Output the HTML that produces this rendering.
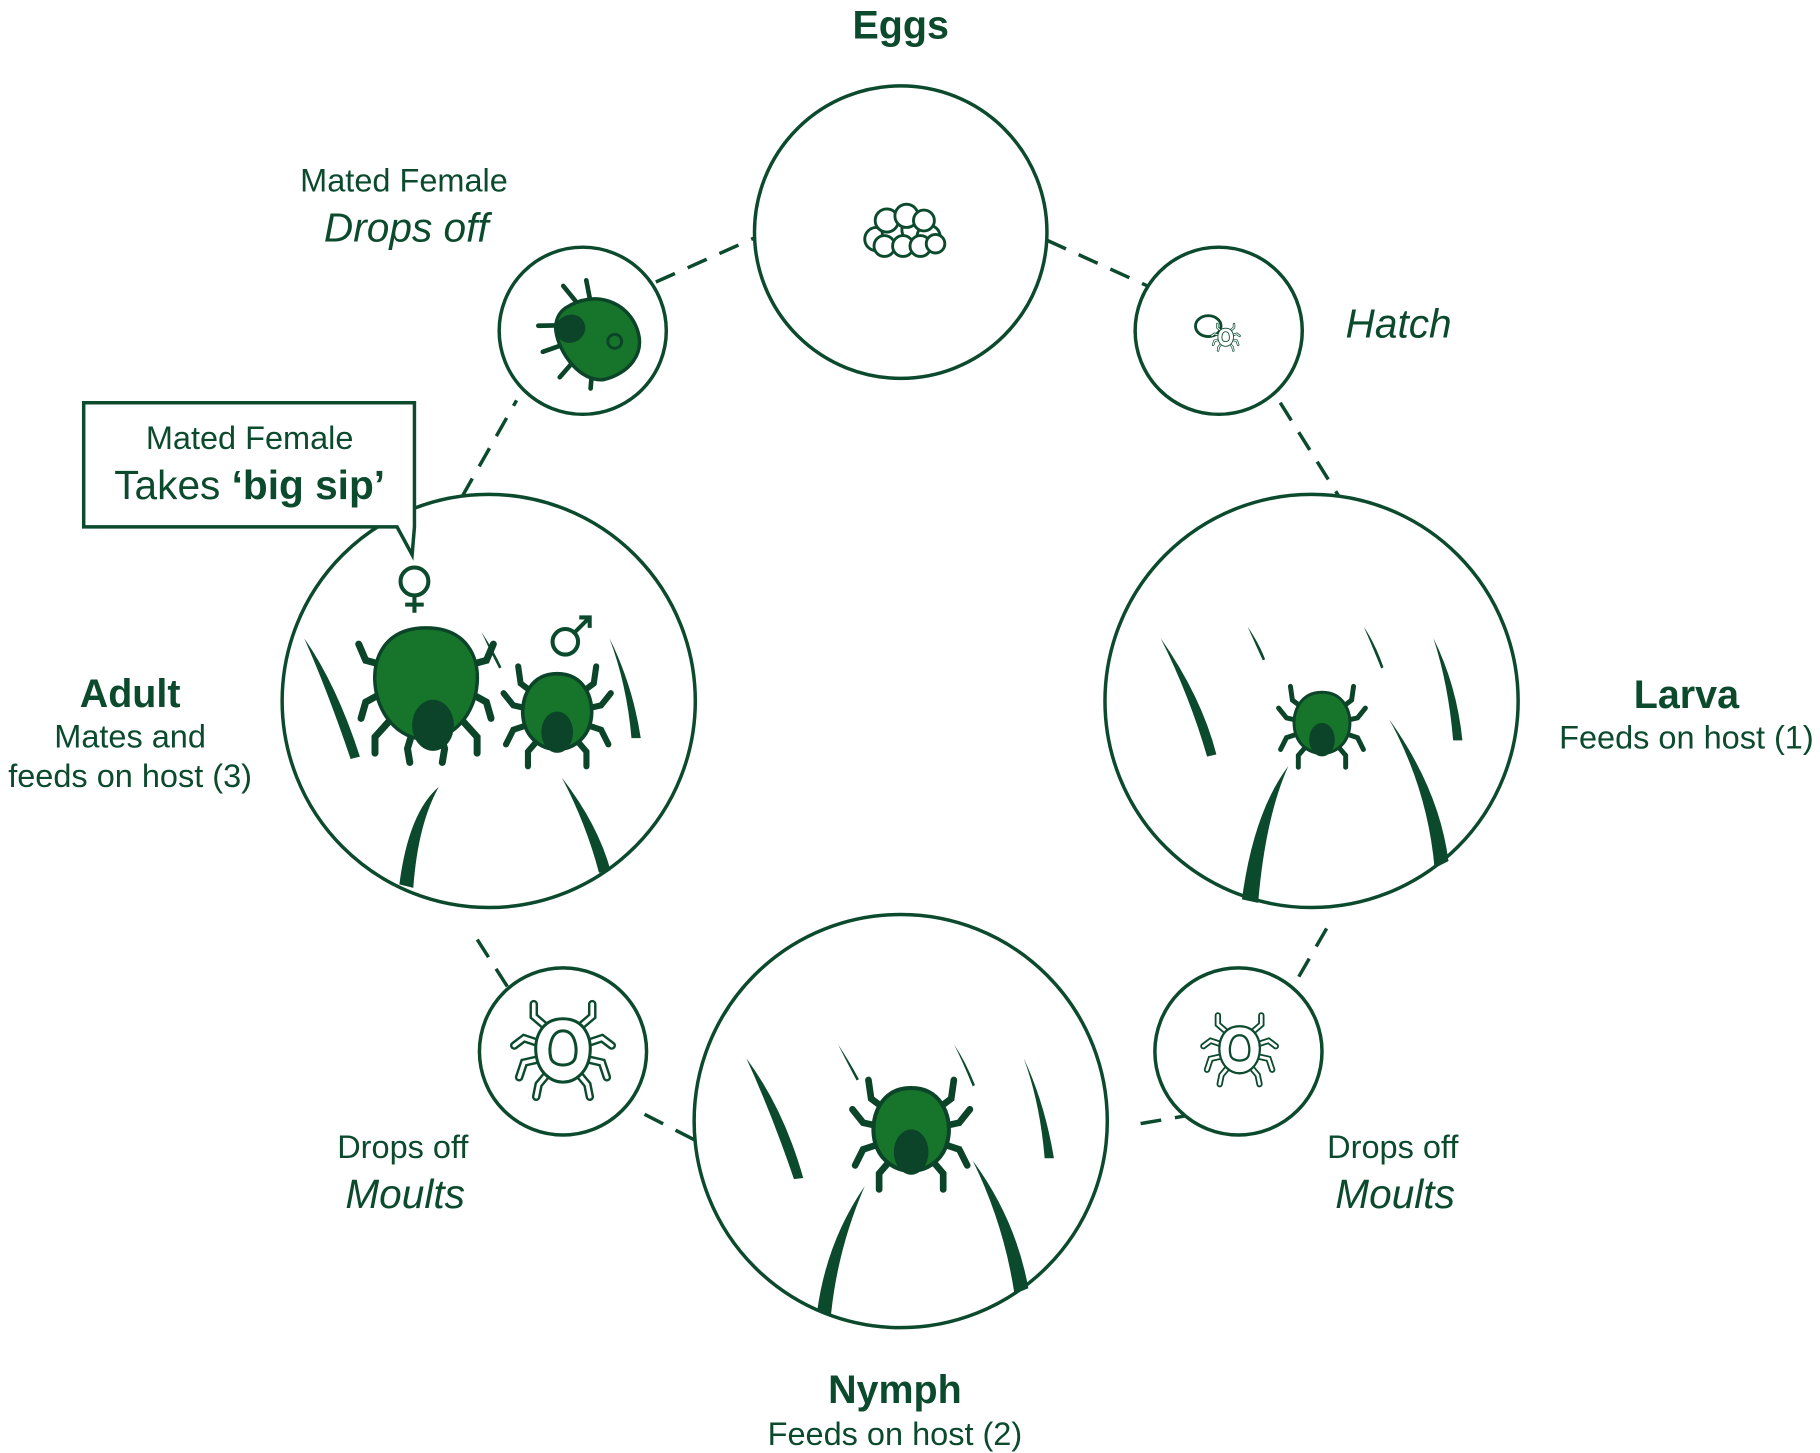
<!DOCTYPE html>
<html><head><meta charset="utf-8"><style>
html,body{margin:0;padding:0;background:#fff;}
svg{display:block}
text{font-family:"Liberation Sans",sans-serif;fill:#0c4a2e}
</style></head><body>
<svg width="1820" height="1453" viewBox="0 0 1568 1252" xmlns="http://www.w3.org/2000/svg">
<defs>
<g id="tick">
  <g stroke="#0c4429" stroke-width="5" fill="none" stroke-linecap="round">
    <path d="M-14,-10 L-30,-22 L-32,-36"/><path d="M14,-10 L30,-22 L32,-36"/>
    <path d="M-18,0 L-36,-4 L-44,-14"/><path d="M18,0 L36,-4 L44,-14"/>
    <path d="M-18,10 L-36,16 L-42,28"/><path d="M18,10 L36,16 L42,28"/>
    <path d="M-12,20 L-24,34 L-24,46"/><path d="M12,20 L24,34 L24,46"/>
  </g>
  <path d="M0,-30 C22,-30 30,-10 28,6 C26,22 14,32 0,32 C-14,32 -26,22 -28,6 C-30,-10 -22,-30 0,-30Z" fill="#17752b" stroke="#0c4429" stroke-width="3"/>
  <ellipse cx="0" cy="18" rx="13" ry="17" fill="#0c4429"/>
</g>
<g id="whitetick">
  <g stroke="#0c4a2e" stroke-width="7" fill="none" stroke-linecap="round">
    <path d="M-10,-14 L-24,-26 L-24,-36"/><path d="M10,-14 L24,-26 L24,-36"/>
    <path d="M-14,-2 L-32,-8 L-40,-2"/><path d="M14,-2 L32,-8 L40,-2"/>
    <path d="M-14,8 L-32,12 L-36,24"/><path d="M14,8 L32,12 L36,24"/>
    <path d="M-10,18 L-20,30 L-22,40"/><path d="M10,18 L20,30 L22,40"/>
  </g>
  <g stroke="#fff" stroke-width="3" fill="none" stroke-linecap="round">
    <path d="M-10,-14 L-24,-26 L-24,-36"/><path d="M10,-14 L24,-26 L24,-36"/>
    <path d="M-14,-2 L-32,-8 L-40,-2"/><path d="M14,-2 L32,-8 L40,-2"/>
    <path d="M-14,8 L-32,12 L-36,24"/><path d="M14,8 L32,12 L36,24"/>
    <path d="M-10,18 L-20,30 L-22,40"/><path d="M10,18 L20,30 L22,40"/>
  </g>
  <path d="M0,-24 C18,-24 24,-8 22,6 C20,20 10,28 0,28 C-10,28 -20,20 -22,6 C-24,-8 -18,-24 0,-24Z" fill="#fff" stroke="#0c4a2e" stroke-width="2.5"/>
  <path d="M0,-14 C10,-14 12,0 10,8 C8,16 -8,16 -10,8 C-12,0 -10,-14 0,-14Z" fill="#fff" stroke="#0c4a2e" stroke-width="2.5"/>
</g>
</defs>

<g stroke="#0c4a2e" stroke-width="3" stroke-dasharray="18 12" fill="none">
  <path d="M565,243 L650,205"/>
  <path d="M902,207 L990,247"/>
  <path d="M1103,347 L1155,430"/>
  <path d="M1143,800 L1113,852"/>
  <path d="M1030,960 L972,970"/>
  <path d="M598,982 L555,960"/>
  <path d="M437,850 L405,800"/>
  <path d="M398,428 L445,345"/>
</g>

<g fill="#fff" stroke="#0c4a2e" stroke-width="3">
  <circle cx="776" cy="200" r="126"/>
  <circle cx="1050" cy="285" r="72"/>
  <circle cx="1130" cy="604" r="178"/>
  <circle cx="1067" cy="906" r="72"/>
  <circle cx="776" cy="966" r="178"/>
  <circle cx="485" cy="906" r="72"/>
  <circle cx="421" cy="604" r="178"/>
  <circle cx="502" cy="285" r="72"/>
</g>

<g fill="#fff" stroke="#0c4a2e" stroke-width="2.5">
  <circle cx="755" cy="206" r="10"/><circle cx="770" cy="200" r="10"/><circle cx="787" cy="198" r="10"/><circle cx="800" cy="204" r="10"/>
  <circle cx="764" cy="190" r="10"/><circle cx="781" cy="186" r="10"/><circle cx="796" cy="190" r="9"/>
  <circle cx="762" cy="212" r="9"/><circle cx="778" cy="212" r="9"/><circle cx="793" cy="212" r="9"/><circle cx="806" cy="210" r="8"/>
</g>

<g transform="translate(1050,285) scale(0.5)" >
  <ellipse cx="-18" cy="-8" rx="22" ry="18" fill="#fff" stroke="#0c4a2e" stroke-width="5"/>
  <g transform="translate(12,10) scale(0.6)"><use href="#whitetick"/></g>
</g>

<g fill="#0c4a2e">
  <path d="M1000,550 Q1035,600 1048,650 L1040,652 Q1025,600 1000,550Z"/>
  <path d="M1235,550 Q1255,590 1260,638 L1252,638 Q1248,590 1235,550Z"/>
  <path d="M1075,540 Q1085,555 1090,568 L1088,569 Q1082,556 1075,540Z"/>
  <path d="M1175,540 Q1185,555 1192,575 L1190,576 Q1182,556 1175,540Z"/>
  <path d="M1070,775 Q1080,700 1110,660 Q1090,705 1084,778Z"/>
  <path d="M1197,620 Q1240,680 1248,742 L1236,748 Q1230,680 1197,620Z"/>
  <path d="M643,912 Q675,955 692,1015 L684,1016 Q665,960 643,912Z"/>
  <path d="M882,912 Q900,950 908,998 L900,998 Q896,950 882,912Z"/>
  <path d="M722,900 Q732,915 740,930 L738,931 Q730,916 722,900Z"/>
  <path d="M822,900 Q832,915 840,935 L838,936 Q830,916 822,900Z"/>
  <path d="M704,1130 Q712,1070 745,1022 Q722,1075 716,1132Z"/>
  <path d="M838,1000 Q875,1050 886,1110 L874,1115 Q865,1055 838,1000Z"/>
  <path d="M262,550 Q290,590 310,652 L302,654 Q282,595 262,550Z"/>
  <path d="M525,550 Q545,590 552,636 L544,636 Q540,590 525,550Z"/>
  <path d="M415,545 Q425,560 432,575 L430,576 Q422,561 415,545Z"/>
  <path d="M344,762 Q352,700 378,678 Q360,710 356,765Z"/>
  <path d="M484,670 Q515,710 526,750 L516,752 Q505,710 484,670Z"/>
</g>

<g transform="translate(1139,622) scale(0.85)"><use href="#tick"/></g>
<g transform="translate(785,972) scale(1.15)"><use href="#tick"/></g>
<g transform="translate(480,612) scale(1.05)"><use href="#tick"/></g>
<g transform="translate(367,585)">
  <g stroke="#0c4429" stroke-width="6" fill="none" stroke-linecap="round">
    <path d="M-30,-10 L-52,-16 L-58,-30"/><path d="M30,-10 L52,-16 L58,-30"/>
    <path d="M-34,10 L-52,20 L-56,34"/><path d="M34,10 L52,20 L56,34"/>
    <path d="M-26,30 L-44,50 L-44,64"/><path d="M26,30 L44,50 L44,64"/>
    <path d="M-10,40 L-16,60 L-14,72"/><path d="M10,40 L16,60 L14,72"/>
  </g>
  <path d="M0,-44 C34,-44 46,-20 44,4 C42,30 24,52 0,52 C-24,52 -42,30 -44,4 C-46,-20 -34,-44 0,-44Z" fill="#17752b" stroke="#0c4429" stroke-width="3"/>
  <ellipse cx="6" cy="40" rx="18" ry="22" fill="#0c4429"/>
</g>
<g stroke="#0c4a2e" stroke-width="3.5" fill="none">
  <circle cx="357" cy="501" r="12"/><path d="M357,513 L357,528 M349,521 L365,521"/>
  <circle cx="487" cy="553" r="11"/><path d="M495,545 L508,532 M499,532 L508,532 L508,541"/>
</g>
<g transform="translate(510,290) rotate(-25)">
  <g stroke="#0c4429" stroke-width="4" fill="none" stroke-linecap="round">
    <path d="M-20,-20 L-38,-28"/><path d="M-24,-4 L-44,-6"/><path d="M-22,12 L-40,20"/><path d="M-12,26 L-20,40"/>
    <path d="M0,-34 L-4,-50"/><path d="M12,-30 L16,-46"/>
  </g>
  <path d="M-10,-32 C20,-36 40,-14 38,10 C36,34 14,42 -6,38 C-26,32 -32,0 -26,-18 C-22,-28 -16,-31 -10,-32Z" fill="#17752b" stroke="#0c4429" stroke-width="3"/>
  <ellipse cx="-14" cy="-14" rx="13" ry="12" fill="#0c4429"/>
  <circle cx="16" cy="12" r="6" fill="none" stroke="#0c4429" stroke-width="2.5"/>
</g>
<g transform="translate(485,903) scale(1.05)"><use href="#whitetick"/></g>
<g transform="translate(1068,903) scale(0.78)"><use href="#whitetick"/></g>

<path d="M72,347 L357,347 L357,454 L355,478 L342,454 L72,454 Z" fill="#fff" stroke="#0c4a2e" stroke-width="3"/>

<g text-anchor="middle" font-size="28">
  <text x="776" y="33" font-size="34" font-weight="bold">Eggs</text>
  <text x="1205" y="291" font-size="35" font-style="italic">Hatch</text>
  <text x="1453" y="610" font-size="34" font-weight="bold">Larva</text>
  <text x="1453" y="645">Feeds on host (1)</text>
  <text x="1200" y="998">Drops off</text>
  <text x="1202" y="1041" font-size="35" font-style="italic">Moults</text>
  <text x="771" y="1209" font-size="34" font-weight="bold">Nymph</text>
  <text x="771" y="1245">Feeds on host (2)</text>
  <text x="347" y="998">Drops off</text>
  <text x="349" y="1041" font-size="35" font-style="italic">Moults</text>
  <text x="112" y="609" font-size="34" font-weight="bold">Adult</text>
  <text x="112" y="644">Mates and</text>
  <text x="112" y="678">feeds on host (3)</text>
  <text x="348" y="165">Mated Female</text>
  <text x="350" y="208" font-size="35" font-style="italic">Drops off</text>
  <text x="215" y="387">Mated Female</text>
  <text x="215" y="430" font-size="35">Takes <tspan font-weight="bold">‘big sip’</tspan></text>
</g>
</svg>
</body></html>
